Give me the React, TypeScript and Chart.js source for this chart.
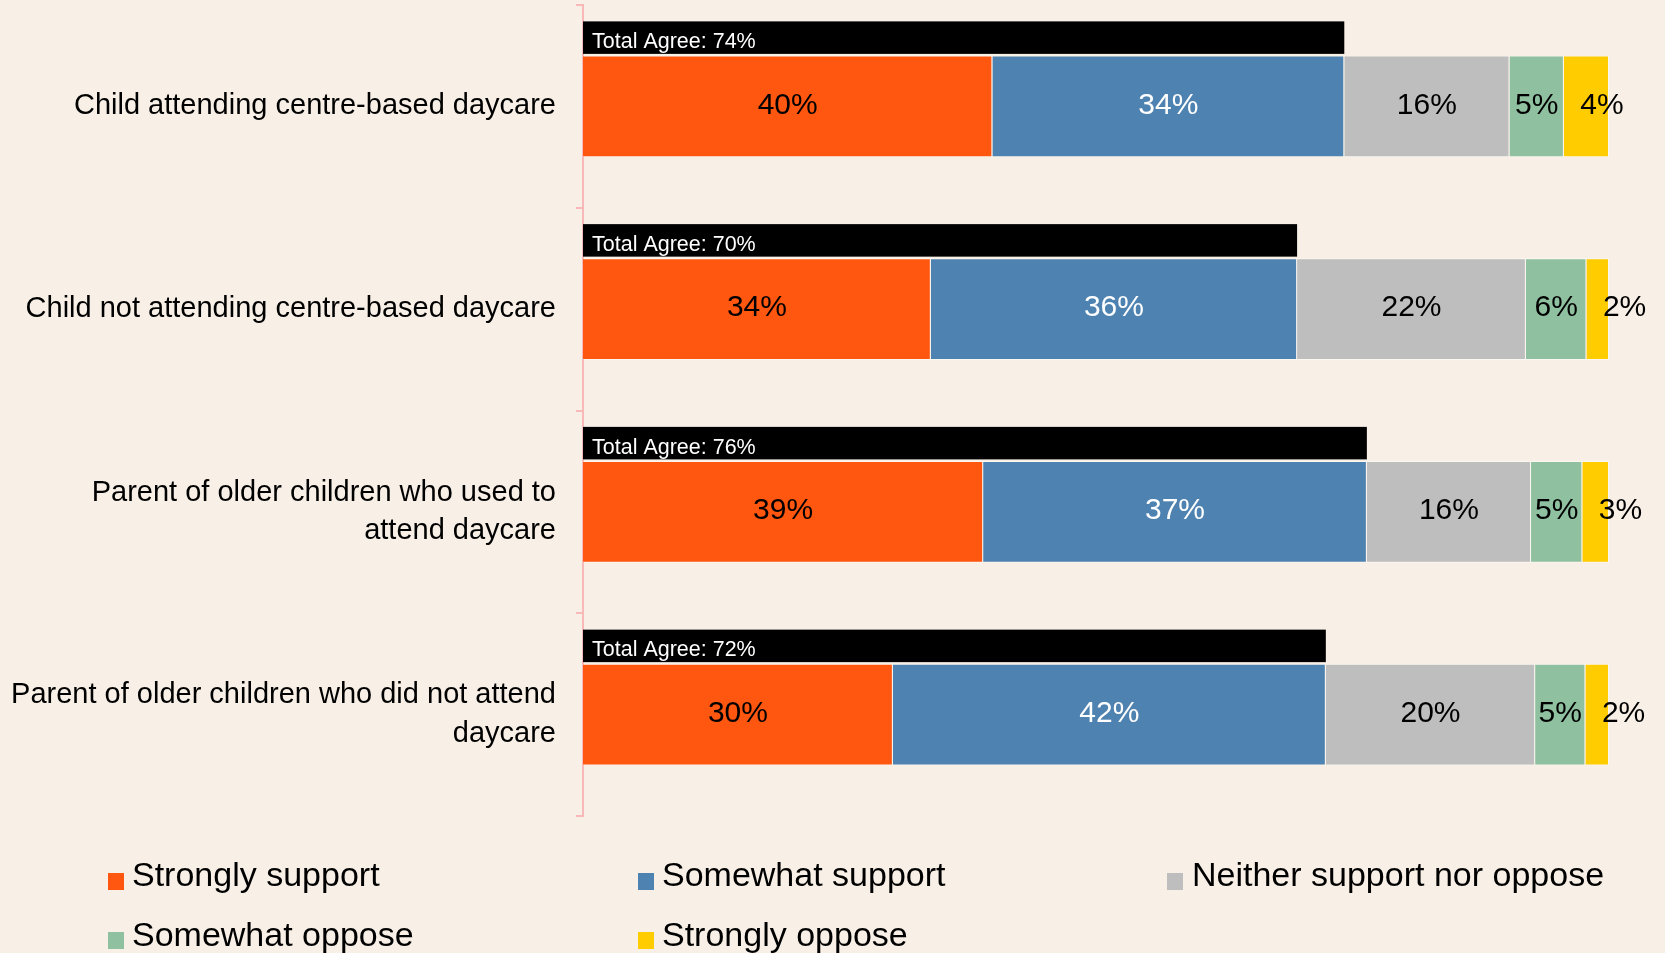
import React, { useEffect, useRef } from "react";
import { Chart, registerables } from "chart.js";

Chart.register(...registerables);

const categories: (string | string[])[] = [
  "Child attending centre-based daycare",
  "Child not attending centre-based daycare",
  ["Parent of older children who used to", "attend daycare"],
  ["Parent of older children who did not attend", "daycare"],
];

const seriesNames = [
  "Strongly support",
  "Somewhat support",
  "Neither support nor oppose",
  "Somewhat oppose",
  "Strongly oppose",
];

const stronglySupport = [39.9, 33.9, 39.0, 30.2];
const somewhatSupport = [34.3, 35.7, 37.4, 42.2];
const neither = [16.1, 22.3, 16.0, 20.4];
const somewhatOppose = [5.3, 5.9, 5.0, 4.9];
const stronglyOppose = [4.4, 2.2, 2.6, 2.3];

const seriesColors = ["#FF5610", "#4E82B0", "#BEBEBE", "#8FC0A0", "#FFCC00"];
const labelColors = ["#000000", "#FFFFFF", "#000000", "#000000", "#000000"];

const totalAgree = stronglySupport.map((v, i) => v + somewhatSupport[i]);

const FONT = "'Liberation Sans', Arial, sans-serif";
const BG = "#F8F0E6";
const AXIS = "#F9B9B9";

const totalPlugin = {
  id: "totalAgree",
  beforeDatasetsDraw(chart: any) {
    const ctx = chart.ctx;
    const xs = chart.scales.x;
    const meta = chart.getDatasetMeta(0);
    ctx.save();
    meta.data.forEach((el: any, i: number) => {
      const p = el.getProps(["y", "height"], true);
      const top = p.y - p.height / 2;
      const x0 = xs.getPixelForValue(0);
      const x1 = xs.getPixelForValue(totalAgree[i]);
      ctx.fillStyle = "#000000";
      ctx.fillRect(x0, top - 34, x1 - x0, 32.5);
      ctx.fillStyle = "#FFFFFF";
      ctx.font = `21.5px ${FONT}`;
      ctx.textAlign = "left";
      ctx.textBaseline = "alphabetic";
      ctx.fillText(`Total Agree: ${Math.round(totalAgree[i])}%`, x0 + 9, top - 7.3);
    });
    ctx.restore();
  },
};

const valuePlugin = {
  id: "valueLabels",
  afterDatasetsDraw(chart: any) {
    const ctx = chart.ctx;
    ctx.save();
    ctx.font = `30px ${FONT}`;
    ctx.textBaseline = "middle";
    const last = chart.data.datasets.length - 1;
    chart.data.datasets.forEach((ds: any, di: number) => {
      const meta = chart.getDatasetMeta(di);
      meta.data.forEach((el: any, i: number) => {
        const p = el.getProps(["x", "base", "y"], true);
        ctx.fillStyle = labelColors[di];
        const txt = `${Math.round(ds.data[i])}%`;
        if (di === last) {
          ctx.textAlign = "left";
          ctx.fillText(txt, Math.min(p.x, p.base) + 16.5, p.y - 1);
        } else {
          ctx.textAlign = "center";
          ctx.fillText(txt, (p.x + p.base) / 2, p.y - 1);
        }
      });
    });
    ctx.restore();
  },
};

const legendPos = [
  { sx: 108, sy: 873, tx: 132, ty: 857 },
  { sx: 638, sy: 873, tx: 662, ty: 857 },
  { sx: 1167, sy: 873, tx: 1192, ty: 857 },
  { sx: 108, sy: 932, tx: 132, ty: 917 },
  { sx: 638, sy: 932, tx: 662, ty: 917 },
];

export default function App() {
  const ref = useRef<HTMLCanvasElement>(null);

  useEffect(() => {
    if (!ref.current) return;
    const allSeries = [stronglySupport, somewhatSupport, neither, somewhatOppose, stronglyOppose];
    const chart = new Chart(ref.current, {
      type: "bar",
      data: {
        labels: categories,
        datasets: allSeries.map((d, i) => ({
          label: seriesNames[i],
          data: d,
          backgroundColor: seriesColors[i],
          borderColor: "rgba(255,255,255,0.45)",
          borderWidth: 1,
          barPercentage: 0.503,
          categoryPercentage: 1,
        })),
      },
      options: {
        indexAxis: "y",
        responsive: false,
        animation: false,
        layout: { padding: { left: 0, right: 56, top: 5, bottom: 137 } },
        plugins: {
          legend: { display: false },
          tooltip: { enabled: false },
        },
        scales: {
          x: {
            stacked: true,
            min: 0,
            max: 100,
            display: false,
          },
          y: {
            stacked: true,
            afterFit: (scale: any) => {
              scale.width = 583;
              scale.paddingTop = 0;
              scale.paddingBottom = 0;
            },
            grid: {
              offset: true,
              drawOnChartArea: false,
              drawTicks: true,
              tickLength: 7,
              color: AXIS,
              lineWidth: 2,
            },
            border: { display: true, color: AXIS, width: 2 },
            ticks: {
              padding: 20,
              color: "#000000",
              font: { family: FONT, size: 29, lineHeight: 1.32 },
            },
          },
        },
      },
      plugins: [totalPlugin, valuePlugin],
    });
    return () => chart.destroy();
  }, []);

  return (
    <div
      style={{
        position: "fixed",
        left: 0,
        top: 0,
        width: 1665,
        height: 953,
        background: BG,
        overflow: "hidden",
      }}
    >
      <canvas ref={ref} width={1665} height={953} style={{ position: "absolute", left: 0, top: 0 }} />
      {seriesNames.map((name, i) => (
        <React.Fragment key={name}>
          <div
            style={{
              position: "absolute",
              left: legendPos[i].sx,
              top: legendPos[i].sy,
              width: 16,
              height: 17,
              background: seriesColors[i],
            }}
          />
          <div
            style={{
              position: "absolute",
              left: legendPos[i].tx,
              top: legendPos[i].ty,
              fontFamily: FONT,
              fontSize: 34,
              lineHeight: "34px",
              color: "#000000",
              whiteSpace: "nowrap",
            }}
          >
            {name}
          </div>
        </React.Fragment>
      ))}
    </div>
  );
}
